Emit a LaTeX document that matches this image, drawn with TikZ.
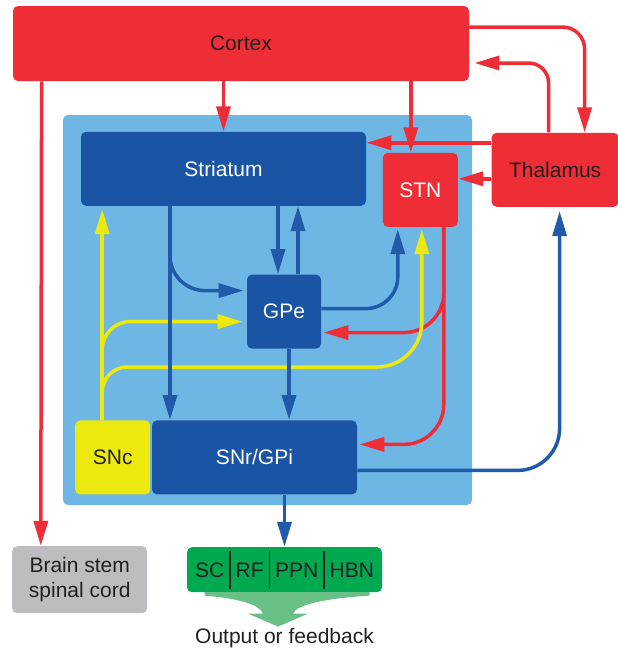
\documentclass[tikz,border=0pt]{standalone}
\usepackage{fontspec}
\setmainfont{Liberation Sans}
\usetikzlibrary{positioning, calc, arrows.meta}

\definecolor{cortexred}{RGB}{239,45,54}
\definecolor{nucleusblue}{RGB}{26,85,165}
\definecolor{pathblue}{RGB}{31,91,170}
\definecolor{gangliablue}{RGB}{110,183,228}
\definecolor{dopayellow}{RGB}{236,233,15}
\definecolor{outgreen}{RGB}{0,168,80}
\definecolor{funnelgreen}{RGB}{104,192,134}
\definecolor{stemgray}{RGB}{188,189,193}
\definecolor{labelblack}{RGB}{35,31,32}

\begin{document}
\begin{tikzpicture}[x=1pt, y=1pt, thick, >={Triangle[length=25pt, width=14pt]}, font=\fontsize{21}{25}\selectfont]
        % Define block styles
        \tikzstyle{block} = [rectangle, rounded corners=5pt, inner sep=0pt, minimum height=74pt, text=labelblack]
        \tikzstyle{nucleus} = [block, fill=nucleusblue, text=white]
        \tikzstyle{redpath} = [draw=cortexred, line width=3.5pt, ->]
        \tikzstyle{bluepath} = [draw=pathblue, line width=3.5pt, ->]
        \tikzstyle{yellowpath} = [draw=dopayellow, line width=3.5pt, ->]

        \useasboundingbox (0,0) rectangle (618,-648);

        % Basal ganglia background
        \node [block, fill=gangliablue, minimum width=409pt, minimum height=390pt] (ganglia) at (267.5,-310) {};

        % Place nodes
        \node [block, fill=cortexred, minimum width=456pt, minimum height=75pt] (cortex) at (241,-43.5) {Cortex};
        \node [nucleus, minimum width=285pt, below=50pt of cortex.south west, anchor=north west, xshift=68pt] (striatum) {Striatum};
        \node [block, fill=cortexred, text=white, minimum width=75pt, right=16pt of striatum.north east, anchor=north west, yshift=-21pt] (stn) {STN};
        \node [block, fill=cortexred, minimum width=127pt, right=33pt of stn.north east, anchor=north west, yshift=20pt] (thalamus) {Thalamus};
        \node [nucleus, minimum width=74pt, below=68pt of striatum.south, xshift=60.5pt] (gpe) {GPe};
        \node [nucleus, minimum width=205pt, below=71pt of gpe.south, xshift=-29.5pt] (snr) {SNr/GPi};
        \node [block, fill=dopayellow, minimum width=75pt, left=1pt of snr] (snc) {SNc};
        \node [block, fill=stemgray, minimum width=135pt, minimum height=67pt, align=center, below=51pt of snc.south west, anchor=north west, xshift=-63pt] (brainstem) {Brain stem\\spinal cord};
        \node [block, fill=outgreen, minimum width=195pt, minimum height=45pt, below=52pt of snr.south, xshift=30pt] (output)
            {\setlength{\tabcolsep}{5.7pt}\renewcommand{\arraystretch}{1.52}\setlength{\arrayrulewidth}{1.6pt}%
             \begin{tabular}{c|c|c|c}SC & RF & PPN & HBN\end{tabular}};
        \node [text=labelblack, below=51pt of output.south, anchor=base] (feedback) {Output or feedback};

        % Output funnel
        \begin{scope}[shift={(output.south)}]
            \fill [funnelgreen] (-80,0.5) -- (85,0.5) -- (85,-3) .. controls (40,-6) and (12,-12) .. (8.5,-21) -- (23.5,-21) -- (-6.5,-34) -- (-36.5,-21) -- (-21.5,-21) .. controls (-25,-12) and (-45,-6) .. (-80,-3) -- cycle;
        \end{scope}

        % Draw connections as arrows
        \draw [redpath] ([xshift=29pt]cortex.south west) -- ([xshift=29pt]brainstem.north west);
        \draw [redpath] (cortex.south -| striatum.north) -- (striatum.north);
        \draw [redpath] ([xshift=-9.5pt]cortex.south -| stn.north) -- ([xshift=-9.5pt]stn.north);
        \draw [redpath, rounded corners=22pt] ([yshift=16.5pt]cortex.east) -| ([xshift=29.5pt]thalamus.north);
        \draw [redpath, rounded corners=20pt] ([xshift=-6.5pt]thalamus.north) |- ([xshift=5pt, yshift=-19.5pt]cortex.east);
        \draw [redpath] ([yshift=27pt]thalamus.west) -- ([yshift=27pt]thalamus.west -| striatum.east);
        \draw [redpath] ([yshift=-9pt]thalamus.west) -- ([yshift=-9pt]thalamus.west -| stn.east);
        \draw [redpath, rounded corners=40pt] ([xshift=23.5pt]stn.south) |- ([xshift=2pt, yshift=-21pt]gpe.east);
        \draw [redpath, rounded corners=40pt] ([xshift=23.5pt]stn.south) |- ([xshift=2pt, yshift=13pt]snr.east);

        \draw [yellowpath] ([xshift=-10.5pt]snc.north) -- ([xshift=-10.5pt, yshift=-3pt]snc.north |- striatum.south);
        \draw [yellowpath, rounded corners=28pt] ([xshift=-10.5pt]snc.north) |- ([xshift=-4pt, yshift=-10pt]gpe.west);
        \draw [yellowpath, rounded corners=25pt] ([xshift=-10.5pt]snc.north) |- ([yshift=-18pt]gpe.south) [rounded corners=45pt] -| ([xshift=1.5pt, yshift=-2pt]stn.south);

        \draw [bluepath] ([xshift=-6pt]gpe.north |- striatum.south) -- ([xshift=-6pt]gpe.north);
        \draw [bluepath] ([xshift=14pt]gpe.north) -- ([xshift=14pt]gpe.north |- striatum.south);
        \draw [bluepath] ([xshift=-53.5pt]striatum.south) -- ([xshift=-53.5pt]striatum.south |- snr.north);
        \draw [bluepath, rounded corners=35pt] ([xshift=-53.5pt]striatum.south) |- ([xshift=-3pt, yshift=21pt]gpe.west);
        \draw [bluepath, rounded corners=32pt] ([yshift=3pt]gpe.east) -| ([xshift=-22.5pt, yshift=-2pt]stn.south);
        \draw [bluepath] ([xshift=5pt]gpe.south) -- ([xshift=5pt]gpe.south |- snr.north);
        \draw [bluepath] (snr.south -| output.north) -- (output.north);
        \draw [bluepath, rounded corners=42pt] ([yshift=-13pt]snr.east) -| ([xshift=4.5pt, yshift=-4pt]thalamus.south);

    \end{tikzpicture}
\end{document}
